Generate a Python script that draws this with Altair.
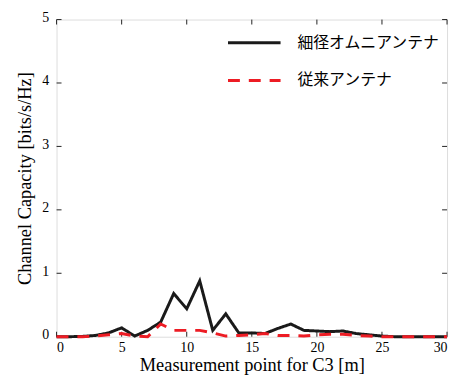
import altair as alt
import pandas as pd

x_vals = list(range(31))
thin_omni = [0, 0, 0.005, 0.02, 0.06, 0.14, 0.01, 0.10, 0.23, 0.68, 0.44, 0.88, 0.10, 0.36,
             0.06, 0.06, 0.05, 0.13, 0.20, 0.10, 0.09, 0.08, 0.09, 0.05, 0.03, 0.01,
             0, 0, 0, 0, 0]
conventional = [0, 0, 0, 0.01, 0.03, 0.05, 0.01, 0.0, 0.20, 0.10, 0.10, 0.10, 0.06, 0.01,
                0.02, 0.03, 0.05, 0.02, 0.02, 0.01, 0.03, 0.04, 0.04, 0.02, 0.01, 0,
                0, 0, 0, 0, 0]
series_names = ["細径オムニアンテナ", "従来アンテナ"]
x_ticks = [0, 5, 10, 15, 20, 25, 30]
y_ticks = [0, 1, 2, 3, 4, 5]

rows = []
for name, vals in zip(series_names, [thin_omni, conventional]):
    for xv, yv in zip(x_vals, vals):
        rows.append({"x": xv, "y": yv, "series": name})
df = pd.DataFrame(rows)

W, H = 394, 320
serif = "Liberation Serif"

xs = alt.Scale(domain=[0, 30], nice=False, zero=False)
ys = alt.Scale(domain=[0, 5], nice=False)

legend = alt.Legend(
    title=None, orient="none", legendX=187, legendY=11,
    symbolType="M-2.5,0L2.5,0", symbolSize=450, symbolStrokeWidth=3,
    labelFont="Noto Sans CJK JP", labelFontSize=16, labelColor="black",
    labelOffset=31, rowPadding=17, padding=0,
)

x_enc = alt.X("x:Q", scale=xs, axis=alt.Axis(
    values=x_ticks, format="d", title="Measurement point for C3 [m]", grid=False, domain=False,
    ticks=False, tickSize=0, labelFont=serif, labelFontSize=14, labelColor="black",
    labelBaseline="alphabetic", labelPadding=15,
    titleFont=serif, titleFontSize=18.5, titleFontWeight="normal", titleColor="black",
    titleBaseline="alphabetic", titleY=34))
y_enc = alt.Y("y:Q", scale=ys, axis=alt.Axis(
    values=y_ticks, format="d", title="Channel Capacity [bits/s/Hz]", grid=False, domain=False,
    ticks=False, tickSize=0, labelFont=serif, labelFontSize=14, labelColor="black",
    labelBaseline="middle", labelPadding=8, labelOffset=-2,
    titleFont=serif, titleFontSize=18.5, titleFontWeight="normal", titleColor="black",
    titleAngle=270, titleBaseline="alphabetic", titleAlign="center",
    titleX=-26, titleY=H / 2))
c_enc = alt.Color("series:N", scale=alt.Scale(domain=series_names,
                  range=["#1a1a1a", "#ed1c24"]), legend=legend)
d_enc = alt.StrokeDash("series:N", scale=alt.Scale(domain=series_names,
                       range=[[1, 0], [12, 9]]), legend=legend)

base = alt.Chart(df).mark_line(strokeWidth=3).encode(
    x=x_enc, y=y_enc, color=c_enc, strokeDash=d_enc)
line_black = base.transform_filter(alt.datum.series == series_names[0])
line_red = base.transform_filter(alt.datum.series == series_names[1])

xt = pd.DataFrame({"t": x_ticks})
yt = pd.DataFrame({"t": y_ticks})
tick_style = dict(color="#222", strokeWidth=1)
xb = alt.Chart(xt).mark_rule(**tick_style).encode(
    x=alt.X("t:Q", scale=xs), y=alt.value(H), y2=alt.value(H - 5))
xtop = alt.Chart(xt).mark_rule(**tick_style).encode(
    x=alt.X("t:Q", scale=xs), y=alt.value(0), y2=alt.value(5))
yl = alt.Chart(yt).mark_rule(**tick_style).encode(
    y=alt.Y("t:Q", scale=ys), x=alt.value(0), x2=alt.value(5))
yr = alt.Chart(yt).mark_rule(**tick_style).encode(
    y=alt.Y("t:Q", scale=ys), x=alt.value(W - 5), x2=alt.value(W))

chart = alt.layer(xb, xtop, yl, yr, line_black, line_red).properties(
    width=W, height=H,
    autosize=alt.AutoSizeParams(type="none"),
    padding={"left": 49, "top": 10, "right": 5, "bottom": 40},
).configure_view(stroke="#222", strokeWidth=1.2).configure_axis(
    labelFont=serif, titleFont=serif
).configure(background="white")

chart.save("out.html", embed_options={"renderer": "svg", "actions": False})
